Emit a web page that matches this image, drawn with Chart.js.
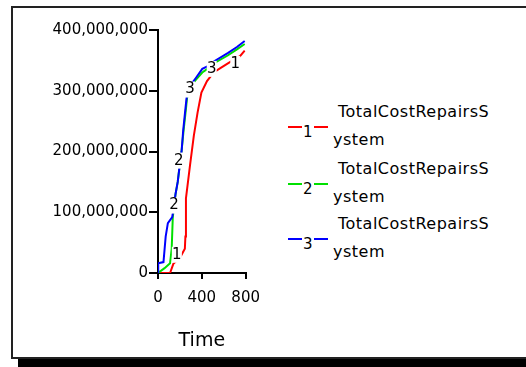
<!DOCTYPE html>
<html lang="en">
<head>
    <meta charset="UTF-8">
    <title>TotalCostRepairsSystem</title>
    <script src="https://cdn.jsdelivr.net/npm/chart.js"></script>
    <style>
        body {
            margin: 0;
            width: 526px;
            height: 367px;
            background: #fff;
            position: relative;
            overflow: hidden;
            font-family: "DejaVu Sans", sans-serif;
        }
        .frame {
            position: absolute;
            left: 11px;
            top: 6px;
            width: 540px;
            height: 349px;
            border: 2px solid #222;
        }
        .shadow {
            position: absolute;
            left: 18px;
            top: 359px;
            width: 520px;
            height: 8px;
            background: #000;
        }
        .chart-box {
            position: absolute;
            left: 20px;
            top: 10px;
            width: 250px;
            height: 345px;
        }
        .legend-item {
            position: absolute;
            left: 288px;
            font-size: 16px;
            letter-spacing: 0.5px;
            color: #000;
        }
        .legend-item .swatch {
            position: absolute;
            left: 0;
            width: 40px;
            height: 2px;
        }
        .legend-item .num {
            position: absolute;
            left: 14px;
            width: 12px;
            text-align: center;
            background: #fff;
            font-size: 15px;
            line-height: 15px;
        }
        .legend-item .l1, .legend-item .l2 {
            position: absolute;
            white-space: nowrap;
            line-height: 18px;
        }
    </style>
</head>
<body>

    <div class="frame"></div>
    <div class="shadow"></div>

    <div class="chart-box">
        <canvas id="costChart"></canvas>
    </div>

    <div id="legend"></div>

    <script>
        // series names and colours
        const seriesNames = ['TotalCostRepairsSystem', 'TotalCostRepairsSystem', 'TotalCostRepairsSystem'];
        const seriesNums = ['1', '2', '3'];
        const seriesColors = ['#ff0000', '#00e000', '#0000ff'];

        // run 1 (red)
        const time1 = [0, 110, 140, 200, 245, 250, 255, 292, 327, 361, 396, 447, 507, 576, 645, 748, 791];
        const cost1 = [0, 0, 15e6, 25e6, 40e6, 60e6, 123e6, 177e6, 226e6, 264e6, 297e6, 316e6, 330e6, 338e6, 346e6, 357e6, 366e6];

        // run 2 (green)
        const time2 = [0, 60, 110, 125, 135, 160, 180, 200, 215, 232, 255, 265, 300, 345, 404, 450, 516, 636, 720, 791];
        const cost2 = [0, 8e6, 16e6, 40e6, 92e6, 130e6, 150e6, 180e6, 200e6, 232e6, 270e6, 288e6, 308e6, 318e6, 330e6, 336e6, 346e6, 358e6, 368e6, 377e6];

        // run 3 (blue)
        const time3 = [0, 2, 50, 70, 90, 130, 160, 180, 200, 215, 230, 250, 262, 300, 345, 404, 450, 516, 636, 720, 791];
        const cost3 = [0, 16e6, 18e6, 60e6, 82e6, 92e6, 130e6, 150e6, 180e6, 200e6, 235e6, 270e6, 290e6, 310e6, 321e6, 336e6, 340e6, 349e6, 362e6, 372e6, 382e6];

        // where the run numbers sit on the curves
        const markNum = ['1', '1', '2', '2', '3', '3'];
        const markTime = [172, 705, 146, 189, 292, 490];
        const markCost = [30e6, 344e6, 111e6, 185e6, 302e6, 336e6];

        const xTicks = [0, 400, 800];

        function toPoints(ts, vs) {
            return ts.map((t, i) => ({ x: t, y: vs[i] }));
        }

        // legend (html)
        const legendTops = [103, 160, 215];
        const legend = document.getElementById('legend');
        seriesNames.forEach((name, i) => {
            const item = document.createElement('div');
            item.className = 'legend-item';
            item.style.top = legendTops[i] + 'px';
            const cut = 17;
            item.innerHTML =
                '<span class="swatch" style="top:' + 23 + 'px;background:' + seriesColors[i] + '"></span>' +
                '<span class="num" style="top:' + 22 + 'px">' + seriesNums[i] + '</span>' +
                '<span class="l1" style="left:50px;top:0">' + name.slice(0, cut) + '</span>' +
                '<span class="l2" style="left:45px;top:28px">' + name.slice(cut) + '</span>';
            legend.appendChild(item);
        });

        // draws the run numbers over the curves, knocking out the line behind them
        const runNumbers = {
            id: 'runNumbers',
            afterDatasetsDraw(chart) {
                const ctx = chart.ctx;
                const xs = chart.scales.x, ys = chart.scales.y;
                ctx.save();
                ctx.font = '15px "DejaVu Sans"';
                ctx.textAlign = 'center';
                ctx.textBaseline = 'middle';
                markNum.forEach((n, i) => {
                    const px = xs.getPixelForValue(markTime[i]);
                    const py = ys.getPixelForValue(markCost[i]);
                    ctx.fillStyle = '#fff';
                    ctx.fillRect(px - 5, py - 8, 10, 16);
                    ctx.fillStyle = '#000';
                    ctx.fillText(n, px, py);
                });
                ctx.restore();
            }
        };

        new Chart(document.getElementById('costChart'), {
            type: 'line',
            data: {
                datasets: [
                    // blue drawn last (on top), like the original
                    { label: seriesNames[0], data: toPoints(time1, cost1), borderColor: seriesColors[0], order: 3 },
                    { label: seriesNames[1], data: toPoints(time2, cost2), borderColor: seriesColors[1], order: 2 },
                    { label: seriesNames[2], data: toPoints(time3, cost3), borderColor: seriesColors[2], order: 1 }
                ]
            },
            options: {
                responsive: true,
                maintainAspectRatio: false,
                animation: false,
                layout: { padding: { top: 20, right: 19, bottom: 0, left: 0 } },
                elements: {
                    line: { borderWidth: 2, tension: 0, fill: false },
                    point: { radius: 0 }
                },
                plugins: {
                    legend: { display: false },
                    tooltip: { enabled: false }
                },
                scales: {
                    x: {
                        type: 'linear',
                        min: 0,
                        max: 800,
                        afterFit(scale) { scale.height = 82; },
                        border: { display: true, color: '#000', width: 2 },
                        grid: { drawOnChartArea: false, drawTicks: true, tickLength: 6, color: '#000', lineWidth: 2 },
                        ticks: {
                            stepSize: 200,
                            padding: 10,
                            maxRotation: 0,
                            color: '#000',
                            font: { family: 'DejaVu Sans', size: 15 },
                            callback: v => xTicks.includes(v) ? String(v) : ''
                        },
                        title: {
                            display: true,
                            text: 'Time',
                            color: '#000',
                            font: { family: 'DejaVu Sans', size: 19 },
                            padding: { top: 0, bottom: 3 }
                        }
                    },
                    y: {
                        min: 0,
                        max: 400000000,
                        afterFit(scale) { scale.width = 138; },
                        border: { display: true, color: '#000', width: 2 },
                        grid: { drawOnChartArea: false, drawTicks: true, tickLength: 9, color: '#000', lineWidth: 2 },
                        ticks: {
                            stepSize: 100000000,
                            padding: 1,
                            color: '#000',
                            font: { family: 'DejaVu Sans', size: 15 },
                            callback: v => v.toLocaleString('en-US')
                        }
                    }
                }
            },
            plugins: [runNumbers]
        });
    </script>

</body>
</html>
